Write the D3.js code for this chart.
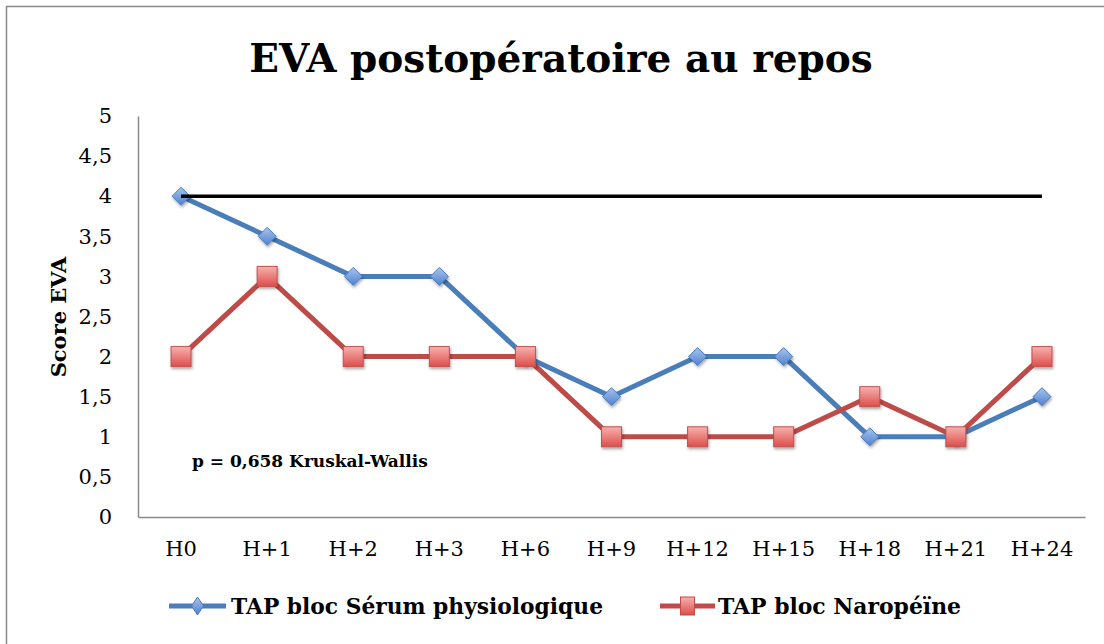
<!DOCTYPE html>
<html>
<head>
<meta charset="utf-8">
<script src="https://cdn.jsdelivr.net/npm/d3@7"></script>
<style>
  body { margin: 0; background: #fff; }
  svg text { font-family: "DejaVu Serif", "Liberation Serif", serif; }
</style>
</head>
<body>
<svg id="svg1" width="1104" height="644"></svg>
<script>
// data
var categories = ["H0", "H+1", "H+2", "H+3", "H+6", "H+9", "H+12", "H+15", "H+18", "H+21", "H+24"];
var serum = [4, 3.5, 3, 3, 2, 1.5, 2, 2, 1, 1, 1.5];
var naropeine = [2, 3, 2, 2, 2, 1, 1, 1, 1.5, 1, 2];
var seuil = 4;
var yTicks = [0, 0.5, 1, 1.5, 2, 2.5, 3, 3.5, 4, 4.5, 5];
var seriesNames = ["TAP bloc Sérum physiologique", "TAP bloc Naropéïne"];

var svg = d3.select("#svg1");

var blue = "#4a7ebb";
var red = "#be4b48";

var defs = svg.append("defs");
var shadow = defs.append("filter").attr("id", "shadow")
  .attr("x", "-50%").attr("y", "-50%").attr("width", "200%").attr("height", "200%");
shadow.append("feDropShadow").attr("dx", 1).attr("dy", 2).attr("stdDeviation", 1.5)
  .attr("flood-color", "#000").attr("flood-opacity", 0.35);

var gBlue = defs.append("linearGradient").attr("id", "gradBlue").attr("x1", 0).attr("y1", 0).attr("x2", 0).attr("y2", 1);
gBlue.append("stop").attr("offset", "0%").attr("stop-color", "#a9c4ec");
gBlue.append("stop").attr("offset", "100%").attr("stop-color", "#4f81d0");
var gRed = defs.append("linearGradient").attr("id", "gradRed").attr("x1", 0).attr("y1", 0).attr("x2", 0).attr("y2", 1);
gRed.append("stop").attr("offset", "0%").attr("stop-color", "#f7b1ae");
gRed.append("stop").attr("offset", "100%").attr("stop-color", "#dc4e4a");

// outer frame
svg.append("rect")
  .attr("x", 6.5).attr("y", 6.5).attr("width", 1110).attr("height", 650)
  .attr("fill", "none").attr("stroke", "#8a8a8a").attr("stroke-width", 1.5);

var scaleX = d3.scaleBand().domain(categories).range([138, 1085]);
var scaleY = d3.scaleLinear().domain([0, 5]).range([517, 116]);
function cx(c) { return scaleX(c) + scaleX.bandwidth() / 2; }

// title
svg.append("text")
  .attr("x", 561).attr("y", 72)
  .attr("text-anchor", "middle")
  .attr("font-size", 39).attr("font-weight", "bold")
  .text("EVA postopératoire au repos");

// axes
svg.append("g")
  .attr("transform", "translate(138,0)")
  .call(d3.axisLeft(scaleY).tickValues(yTicks).tickSize(0).tickPadding(26)
    .tickFormat(function(d) { return String(d).replace(".", ","); }))
  .call(function(g) {
    g.select(".domain").attr("stroke", "#8a8a8a").attr("stroke-width", 1.5);
    g.selectAll("text").attr("font-size", 21).attr("fill", "#000")
      .style("font-family", "DejaVu Serif");
  });

svg.append("g")
  .attr("transform", "translate(0,517)")
  .call(d3.axisBottom(scaleX).tickSize(0).tickPadding(24))
  .call(function(g) {
    g.select(".domain").attr("stroke", "#8a8a8a").attr("stroke-width", 1.5);
    g.selectAll("text").attr("font-size", 21).attr("fill", "#000")
      .style("font-family", "DejaVu Serif");
  });

// y axis label
svg.append("text")
  .attr("transform", "translate(66,317) rotate(-90)")
  .attr("text-anchor", "middle")
  .attr("font-size", 21).attr("font-weight", "bold")
  .text("Score EVA");

// annotation
svg.append("text")
  .attr("x", 192).attr("y", 467)
  .attr("font-size", 17).attr("font-weight", "bold")
  .text("p = 0,658 Kruskal-Wallis");

var line = d3.line()
  .x(function(d, i) { return cx(categories[i]); })
  .y(function(d) { return scaleY(d); });

// blue series
svg.append("path").datum(serum)
  .attr("d", line).attr("fill", "none")
  .attr("stroke", blue).attr("stroke-width", 5).attr("stroke-linejoin", "round");

svg.selectAll(".diamond")
  .data(serum)
  .enter()
  .append("path")
    .attr("class", "diamond")
    .attr("transform", function(d, i) { return "translate(" + cx(categories[i]) + "," + scaleY(d) + ")"; })
    .attr("d", "M0,-9L9,0L0,9L-9,0Z")
    .attr("fill", "url(#gradBlue)")
    .attr("stroke", "#4a7ebb").attr("stroke-width", 1)
    .attr("filter", "url(#shadow)");

// red series
svg.append("path").datum(naropeine)
  .attr("d", line).attr("fill", "none")
  .attr("stroke", red).attr("stroke-width", 5).attr("stroke-linejoin", "round");

svg.selectAll(".square")
  .data(naropeine)
  .enter()
  .append("rect")
    .attr("class", "square")
    .attr("x", function(d, i) { return cx(categories[i]) - 10; })
    .attr("y", function(d) { return scaleY(d) - 10; })
    .attr("width", 20).attr("height", 20)
    .attr("fill", "url(#gradRed)")
    .attr("stroke", "#c0504d").attr("stroke-width", 1)
    .attr("filter", "url(#shadow)");

// threshold line
svg.append("line")
  .attr("x1", cx(categories[0])).attr("x2", cx(categories[categories.length - 1]))
  .attr("y1", scaleY(seuil)).attr("y2", scaleY(seuil))
  .attr("stroke", "#000").attr("stroke-width", 3.5);

// legend
var legend = [
  { name: seriesNames[0], color: blue, x1: 169, x2: 226, text: 231, shape: "diamond" },
  { name: seriesNames[1], color: red, x1: 660, x2: 715, text: 718, shape: "square" }
];
var lg = svg.selectAll(".legend").data(legend).enter().append("g").attr("class", "legend");
lg.append("line")
  .attr("x1", function(d) { return d.x1; }).attr("x2", function(d) { return d.x2; })
  .attr("y1", 606).attr("y2", 606)
  .attr("stroke", function(d) { return d.color; }).attr("stroke-width", 5);
lg.each(function(d) {
  var m = (d.x1 + d.x2) / 2;
  if (d.shape === "diamond") {
    d3.select(this).append("path")
      .attr("transform", "translate(" + m + ",606)")
      .attr("d", "M0,-9L6,0L0,9L-6,0Z")
      .attr("fill", "url(#gradBlue)").attr("stroke", blue);
  } else {
    d3.select(this).append("rect")
      .attr("x", m - 7).attr("y", 597).attr("width", 14).attr("height", 18)
      .attr("fill", "url(#gradRed)").attr("stroke", red);
  }
});
lg.append("text")
  .attr("x", function(d) { return d.text; }).attr("y", 614)
  .attr("font-size", 22).attr("font-weight", "bold")
  .attr("textLength", function(d, i) { return i === 0 ? 372 : 243; })
  .attr("lengthAdjust", "spacingAndGlyphs")
  .text(function(d) { return d.name; });
</script>
</body>
</html>
